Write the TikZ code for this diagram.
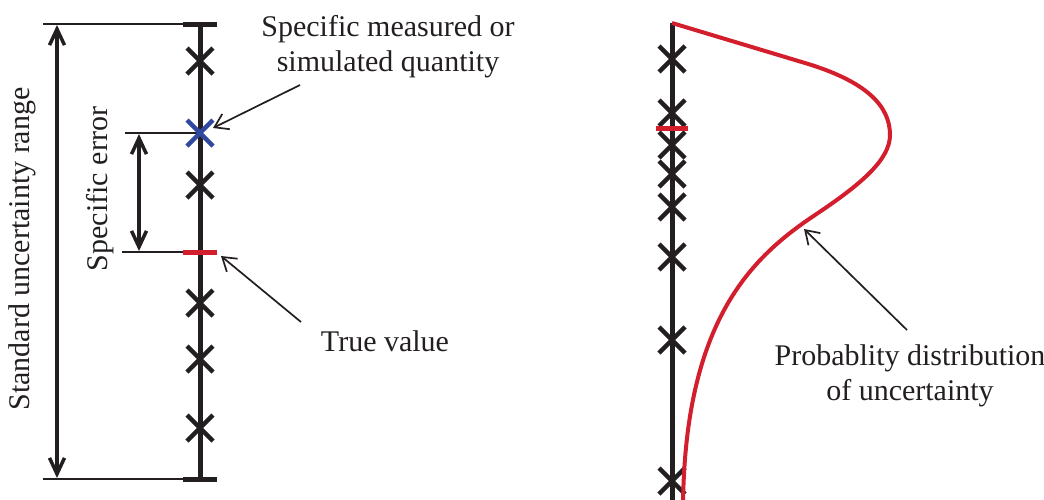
\documentclass[tikz,border=0pt]{standalone}
\usepackage{fontspec}
\setmainfont{Liberation Serif}
\usetikzlibrary{arrows.meta,shapes.misc}
\definecolor{ink}{RGB}{35,31,32}
\definecolor{xblue}{RGB}{48,72,160}
\definecolor{cred}{RGB}{210,30,45}
\begin{document}
\begin{tikzpicture}[x=1pt,y=-1pt,
  lbl/.style={font=\fontsize{30}{35}\selectfont, align=center, inner sep=0pt, text=ink},
  axisline/.style={line width=5pt, draw=ink},
  tickbar/.style={draw=none, fill=ink, minimum width=34pt, minimum height=5pt, inner sep=0pt, outer sep=0pt},
  redbar/.style={tickbar, fill=cred},
  xm/.style={cross out, draw=ink, line width=4.5pt, minimum size=26pt, inner sep=0pt, outer sep=0pt},
  thinline/.style={line width=1.8pt, draw=ink},
  thinarrow/.style={line width=1.7pt, draw=ink, -{Straight Barb[length=13pt,width=17pt,line width=1.7pt]}},
  dimarrow/.style={line width=3.5pt, draw=ink, {Straight Barb[length=16pt,width=15pt]}-{Straight Barb[length=16pt,width=15pt]}},
  curve/.style={line width=4pt, draw=cred, line join=round}
]
\useasboundingbox (0,0) rectangle (1044,499);

% ---------- left diagram ----------
\coordinate (lta) at (43,24);
\coordinate (lba) at (43,479);
\coordinate (ua) at (57,25);
\coordinate (ub) at (57,478);
\coordinate (ea) at (125,133);
\coordinate (eb) at (122,252);
\coordinate (da) at (139,134);
\coordinate (db) at (139,251);

\node[tickbar] (lt) at (200,24) {};
\node[tickbar] (lb) at (200,479) {};
\draw[thinline] (lta) -- (lt.west);
\draw[thinline] (lba) -- (lb.west);
\draw[thinline] (ea) -- (200,133);
\draw[thinline] (eb) -- (183,252);
\draw[axisline] (lt.center) -- (lb.center);

\node[xm] (l1) at (200,61) {};
\node[xm, draw=xblue] (bx) at (200,133) {};
\node[xm] (l2) at (200,185) {};
\node[redbar] (tv) at (200,252) {};
\node[xm] (l3) at (200,303) {};
\node[xm] (l4) at (200,359) {};
\node[xm] (l5) at (200,428) {};

\draw[dimarrow] (ua) -- (ub);
\draw[dimarrow] (da) -- (db);

\node[lbl, rotate=90] (sur) at (22,249) {Standard uncertainty range};
\node[lbl, rotate=90] (se) at (100,189) {Specific error};

\node[lbl] (q) at (388,47) {Specific measured or\\simulated quantity};
\coordinate (qa) at (300,85);
\draw[thinarrow] (qa) -- (213,128);

\node[lbl] (tvl) at (385,341) {True value};
\coordinate (ta) at (301,322);
\draw[thinarrow] (ta) -- (221,256);

% ---------- right diagram ----------
\coordinate (rt) at (672,23);
\coordinate (rb) at (672,505);
\draw[axisline] (rt) -- (rb);
\node[xm] (r1) at (672,59) {};
\node[xm] (r2) at (672,113) {};
\node[xm] (r3) at (672,145) {};
\node[xm] (r4) at (672,174) {};
\node[xm] (r5) at (672,207) {};
\node[xm] (r6) at (672,257) {};
\node[xm] (r7) at (672,340) {};
\node[xm] (r8) at (672,481) {};
\node[redbar, minimum width=32pt] (rtv) at (672,128) {};

\draw[curve] (rt) -- (805,63)
  .. controls (865,81) and (890,105) .. (890,135)
  .. controls (890,160) and (860,185) .. (815,215)
  .. controls (752,257) and (685,320) .. (683,505);

\node[lbl] (pd) at (910,376) {Probablity distribution\\of uncertainty};
\coordinate (pa) at (907,330);
\coordinate (pc) at (804,229);
\draw[thinarrow] (pa) -- (pc);
\end{tikzpicture}
\end{document}
